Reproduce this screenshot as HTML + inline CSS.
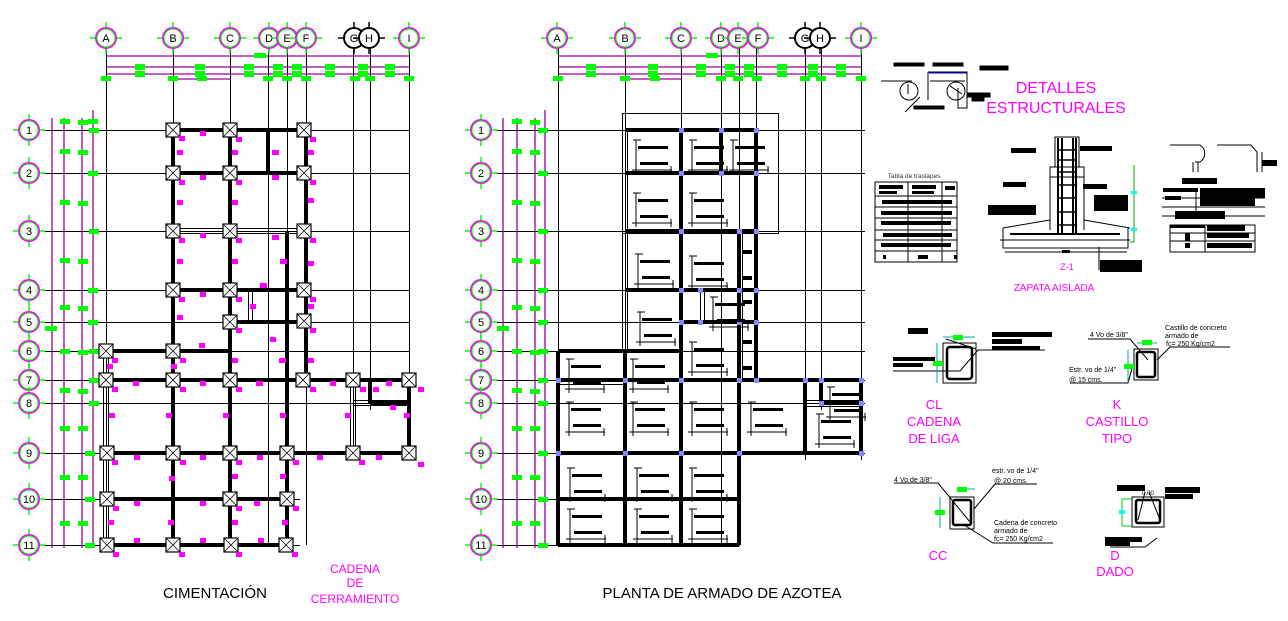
<!DOCTYPE html>
<html><head><meta charset="utf-8"><style>
html,body{margin:0;padding:0;background:#fff;}
svg{display:block;font-family:"Liberation Sans",sans-serif;}
</style></head><body>
<svg width="1288" height="621" viewBox="0 0 1288 621" xmlns="http://www.w3.org/2000/svg">
<defs>
<g id="bub"><circle r="10" fill="#fff" stroke="#f0f" stroke-width="2"/><circle r="9" fill="none" stroke="#0f0" stroke-width="1"/><path d="M-16 0h5M11 0h5M0 -16v5M0 11v5" stroke="#0f0" stroke-width="1.5"/></g>
<g id="bubk"><circle r="10" fill="#fff" stroke="#000" stroke-width="2"/><path d="M-16 0h5M11 0h5M0 -16v5M0 11v5" stroke="#000" stroke-width="1.5"/></g>
<g id="ft"><rect x="-7" y="-7" width="14" height="14" fill="#fff" stroke="#000" stroke-width="1.2"/><path d="M-7 -7L7 7M7 -7L-7 7" stroke="#000" stroke-width="0.8"/></g>
<g id="rb"><path d="M5 2h8M8 2v34M4 32h40M43 28v8" stroke="#000" stroke-width="1" fill="none"/><rect x="10" y="8" width="30" height="3" fill="#000"/><rect x="12" y="24" width="28" height="3" fill="#000"/></g>
</defs>

<!-- ============ LEFT PLAN: CIMENTACION ============ -->
<g stroke="#000" stroke-width="1" fill="none">
<path d="M106.5 48V545M173.5 48V545M230.5 48V545M268.5 48V545M287.5 48V545M306.5 48V545M353.5 48V460M370.5 48V410M409.5 48V460"/>
<path d="M45 130.5H410M45 173.5H410M45 231.5H410M45 290.5H410M45 322.5H410M45 351.5H410M45 380.5H410M45 403.5H410M45 453.5H410M45 499.5H300M45 545.5H300"/>
</g>
<g stroke="#909" stroke-width="1.3">
<path d="M106 56H409M106 67H409M106 74H409M173 79H230"/>
<path d="M52 118V548M64 118V548M82 118V548M93 110V548"/>
</g>
<g fill="#0f0">
<rect x="254" y="53" width="12" height="5"/>
<rect x="135" y="64" width="10" height="6"/><rect x="195" y="64" width="10" height="6"/><rect x="244" y="64" width="10" height="6"/><rect x="273" y="64" width="10" height="6"/><rect x="292" y="64" width="10" height="6"/><rect x="325" y="64" width="10" height="6"/><rect x="358" y="64" width="10" height="6"/><rect x="385" y="64" width="10" height="6"/>
<rect x="135" y="71" width="10" height="6"/><rect x="195" y="71" width="10" height="6"/><rect x="244" y="71" width="10" height="6"/><rect x="273" y="71" width="10" height="6"/><rect x="292" y="71" width="10" height="6"/><rect x="325" y="71" width="10" height="6"/><rect x="358" y="71" width="10" height="6"/><rect x="385" y="71" width="10" height="6"/>
<rect x="101" y="76" width="10" height="5"/><rect x="168" y="76" width="10" height="5"/><rect x="197" y="76" width="10" height="5"/><rect x="263" y="76" width="10" height="5"/><rect x="282" y="76" width="10" height="5"/><rect x="301" y="76" width="10" height="5"/><rect x="350" y="76" width="10" height="5"/><rect x="365" y="76" width="10" height="5"/><rect x="404" y="76" width="10" height="5"/>
</g>
<g fill="#0f0">
<rect x="60" y="119" width="10" height="5"/><rect x="78" y="120" width="10" height="5"/><rect x="88" y="119" width="10" height="5"/>
<rect x="60" y="149" width="10" height="5"/><rect x="78" y="150" width="10" height="5"/>
<rect x="60" y="200" width="10" height="5"/><rect x="78" y="201" width="10" height="5"/>
<rect x="60" y="258" width="10" height="5"/><rect x="78" y="259" width="10" height="5"/>
<rect x="60" y="305" width="10" height="5"/><rect x="78" y="306" width="10" height="5"/>
<rect x="45" y="326" width="12" height="5"/>
<rect x="60" y="349" width="10" height="5"/><rect x="78" y="350" width="10" height="5"/>
<rect x="60" y="388" width="10" height="5"/><rect x="78" y="389" width="10" height="5"/>
<rect x="60" y="426" width="10" height="5"/><rect x="78" y="426" width="10" height="5"/>
<rect x="60" y="475" width="10" height="5"/><rect x="78" y="475" width="10" height="5"/>
<rect x="60" y="521" width="10" height="5"/><rect x="78" y="521" width="10" height="5"/>
<rect x="89" y="128" width="10" height="5"/><rect x="88" y="171" width="10" height="5"/><rect x="89" y="229" width="10" height="5"/><rect x="88" y="288" width="10" height="5"/><rect x="88" y="320" width="10" height="5"/><rect x="89" y="349" width="10" height="5"/><rect x="89" y="378" width="10" height="5"/><rect x="89" y="401" width="10" height="5"/><rect x="85" y="451" width="10" height="5"/><rect x="85" y="497" width="10" height="5"/><rect x="85" y="543" width="10" height="5"/>
</g>
<g stroke="#000" stroke-width="4" fill="none">
<path d="M173 130V545M230 130V545M306 130V380M268 130V173M287 231V545"/>
<path d="M173 130H306M173 173H306M173 290H306M230 322H306M106 351H230M106 380H409M370 403H409M106 453H409M106 499H287M106 545H287M370 380V403M409 380V453"/>
</g>
<g stroke="#000" stroke-width="1" fill="none">
<path d="M173 228.5H306M173 233.5H306M103.5 351V545M108.5 351V545M350.5 380V453M355.5 380V453M248.5 290V322M252.5 290V322M353 400.5H409M353 405.5H409"/>
</g>
<g>
<use href="#ft" x="173" y="130"/><use href="#ft" x="230" y="130"/><use href="#ft" x="304" y="130"/>
<use href="#ft" x="173" y="173"/><use href="#ft" x="230" y="173"/><use href="#ft" x="304" y="173"/>
<use href="#ft" x="173" y="231"/><use href="#ft" x="230" y="231"/><use href="#ft" x="304" y="231"/>
<use href="#ft" x="173" y="290"/><use href="#ft" x="230" y="290"/><use href="#ft" x="304" y="290"/>
<use href="#ft" x="230" y="322"/><use href="#ft" x="304" y="321"/>
<use href="#ft" x="106" y="351"/><use href="#ft" x="173" y="351"/>
<use href="#ft" x="106" y="380"/><use href="#ft" x="173" y="380"/><use href="#ft" x="230" y="380"/><use href="#ft" x="303" y="380"/><use href="#ft" x="353" y="380"/><use href="#ft" x="409" y="380"/>
<use href="#ft" x="107" y="453"/><use href="#ft" x="173" y="453"/><use href="#ft" x="230" y="453"/><use href="#ft" x="287" y="453"/><use href="#ft" x="353" y="453"/><use href="#ft" x="409" y="453"/>
<use href="#ft" x="107" y="499"/><use href="#ft" x="230" y="499"/><use href="#ft" x="287" y="499"/>
<use href="#ft" x="107" y="545"/><use href="#ft" x="173" y="545"/><use href="#ft" x="231" y="545"/><use href="#ft" x="286" y="545"/>
</g>
<g fill="#f0f">
<rect x="179" y="136" width="6" height="5"/><rect x="200" y="131" width="6" height="5"/><rect x="236" y="137" width="6" height="5"/><rect x="310" y="137" width="6" height="5"/><rect x="177" y="150" width="6" height="5"/><rect x="232" y="150" width="6" height="5"/><rect x="272" y="150" width="7" height="5"/><rect x="308" y="150" width="6" height="5"/>
<rect x="179" y="180" width="6" height="5"/><rect x="200" y="175" width="6" height="5"/><rect x="236" y="180" width="6" height="5"/><rect x="272" y="175" width="7" height="5"/><rect x="310" y="180" width="6" height="5"/><rect x="177" y="200" width="6" height="5"/><rect x="232" y="200" width="6" height="5"/><rect x="308" y="198" width="6" height="5"/>
<rect x="179" y="238" width="6" height="5"/><rect x="200" y="233" width="6" height="5"/><rect x="236" y="238" width="6" height="5"/><rect x="272" y="235" width="7" height="5"/><rect x="310" y="238" width="6" height="5"/><rect x="177" y="259" width="6" height="5"/><rect x="232" y="259" width="6" height="5"/><rect x="280" y="259" width="7" height="5"/><rect x="308" y="261" width="6" height="5"/>
<rect x="179" y="297" width="6" height="5"/><rect x="200" y="292" width="6" height="5"/><rect x="236" y="297" width="6" height="5"/><rect x="260" y="283" width="7" height="5"/><rect x="310" y="297" width="6" height="5"/><rect x="177" y="315" width="6" height="5"/><rect x="250" y="304" width="6" height="5"/><rect x="308" y="304" width="6" height="5"/>
<rect x="236" y="328" width="6" height="5"/><rect x="310" y="328" width="6" height="5"/><rect x="199" y="343" width="6" height="5"/><rect x="270" y="337" width="6" height="5"/>
<rect x="112" y="358" width="6" height="5"/><rect x="107" y="364" width="6" height="5"/><rect x="180" y="358" width="6" height="5"/><rect x="171" y="364" width="6" height="5"/><rect x="232" y="358" width="6" height="5"/><rect x="279" y="358" width="7" height="5"/><rect x="308" y="358" width="6" height="5"/>
<rect x="112" y="387" width="6" height="5"/><rect x="133" y="381" width="6" height="5"/><rect x="180" y="387" width="6" height="5"/><rect x="200" y="381" width="6" height="5"/><rect x="236" y="387" width="6" height="5"/><rect x="256" y="381" width="7" height="5"/><rect x="310" y="387" width="6" height="5"/><rect x="330" y="381" width="6" height="5"/><rect x="360" y="387" width="6" height="5"/><rect x="373" y="387" width="6" height="5"/><rect x="386" y="381" width="6" height="5"/><rect x="418" y="387" width="6" height="5"/><rect x="390" y="405" width="6" height="5"/>
<rect x="109" y="413" width="6" height="5"/><rect x="166" y="413" width="6" height="5"/><rect x="223" y="413" width="6" height="5"/><rect x="280" y="413" width="6" height="5"/><rect x="345" y="413" width="6" height="5"/><rect x="404" y="413" width="6" height="5"/>
<rect x="112" y="460" width="6" height="5"/><rect x="134" y="455" width="6" height="5"/><rect x="180" y="460" width="6" height="5"/><rect x="200" y="455" width="6" height="5"/><rect x="236" y="460" width="6" height="5"/><rect x="257" y="455" width="6" height="5"/><rect x="293" y="460" width="6" height="5"/><rect x="317" y="455" width="6" height="5"/><rect x="359" y="460" width="6" height="5"/><rect x="376" y="455" width="6" height="5"/><rect x="418" y="462" width="6" height="5"/>
<rect x="169" y="476" width="6" height="5"/><rect x="232" y="474" width="6" height="5"/><rect x="280" y="474" width="6" height="5"/>
<rect x="113" y="506" width="6" height="5"/><rect x="134" y="501" width="6" height="5"/><rect x="200" y="501" width="6" height="5"/><rect x="236" y="506" width="6" height="5"/><rect x="254" y="501" width="6" height="5"/><rect x="293" y="506" width="6" height="5"/>
<rect x="108" y="520" width="6" height="5"/><rect x="168" y="520" width="6" height="5"/><rect x="232" y="520" width="6" height="5"/><rect x="282" y="520" width="6" height="5"/>
<rect x="134" y="538" width="6" height="5"/><rect x="200" y="538" width="6" height="5"/><rect x="258" y="538" width="6" height="5"/>
<rect x="113" y="552" width="6" height="5"/><rect x="179" y="552" width="6" height="5"/><rect x="236" y="552" width="6" height="5"/><rect x="292" y="552" width="6" height="5"/>
</g>
<g font-size="11" text-anchor="middle">
<use href="#bub" x="106" y="38"/><text x="106" y="42">A</text>
<use href="#bub" x="173" y="38"/><text x="173" y="42">B</text>
<use href="#bub" x="230" y="38"/><text x="230" y="42">C</text>
<use href="#bub" x="269" y="38"/><text x="269" y="42">D</text>
<use href="#bub" x="287" y="38"/><text x="287" y="42">E</text>
<use href="#bub" x="306" y="38"/><text x="306" y="42">F</text>
<use href="#bubk" x="354" y="38"/><use href="#bubk" x="369" y="38"/><text x="354" y="42">G</text><text x="369" y="42">H</text>
<use href="#bub" x="409" y="38"/><text x="409" y="42">I</text>
<use href="#bub" x="29" y="130"/><text x="29" y="134">1</text>
<use href="#bub" x="29" y="173"/><text x="29" y="177">2</text>
<use href="#bub" x="29" y="231"/><text x="29" y="235">3</text>
<use href="#bub" x="29" y="290"/><text x="29" y="294">4</text>
<use href="#bub" x="29" y="322"/><text x="29" y="326">5</text>
<use href="#bub" x="29" y="351"/><text x="29" y="355">6</text>
<use href="#bub" x="29" y="380"/><text x="29" y="384">7</text>
<use href="#bub" x="29" y="403"/><text x="29" y="407">8</text>
<use href="#bub" x="29" y="453"/><text x="29" y="457">9</text>
<use href="#bub" x="29" y="499"/><text x="29" y="503">10</text>
<use href="#bub" x="29" y="545"/><text x="29" y="549">11</text>
</g>
<text x="215" y="598" font-size="15" text-anchor="middle" fill="#000">CIMENTACIÓN</text>
<g font-size="12" fill="#f0f" text-anchor="middle"><text x="355" y="573">CADENA</text><text x="355" y="587">DE</text><text x="355" y="603">CERRAMIENTO</text></g>

<!-- ============ RIGHT PLAN: AZOTEA ============ -->
<g stroke="#000" stroke-width="1" fill="none">
<path d="M558.5 48V545M625.5 48V545M681.5 48V545M721.5 48V545M739.5 48V545M756.5 48V380M805.5 48V460M821.5 48V410M861.5 48V460"/>
<path d="M497 130.5H865M497 173.5H865M497 231.5H865M497 290.5H865M497 322.5H865M497 351.5H865M497 380.5H865M497 403.5H865M497 453.5H865M497 499.5H740M497 545.5H740"/>
<rect x="622.5" y="113.5" width="156" height="120"/>
</g>
<g stroke="#909" stroke-width="1.3">
<path d="M558 56H861M558 67H861M558 74H861M625 79H681"/>
<path d="M503 118V548M517 118V548M535 118V548M545 110V548"/>
</g>
<g fill="#0f0">
<rect x="706" y="53" width="12" height="5"/>
<rect x="586" y="64" width="10" height="6"/><rect x="648" y="64" width="10" height="6"/><rect x="696" y="64" width="10" height="6"/><rect x="725" y="64" width="10" height="6"/><rect x="744" y="64" width="10" height="6"/><rect x="777" y="64" width="10" height="6"/><rect x="808" y="64" width="10" height="6"/><rect x="836" y="64" width="10" height="6"/>
<rect x="586" y="71" width="10" height="6"/><rect x="648" y="71" width="10" height="6"/><rect x="696" y="71" width="10" height="6"/><rect x="725" y="71" width="10" height="6"/><rect x="744" y="71" width="10" height="6"/><rect x="777" y="71" width="10" height="6"/><rect x="808" y="71" width="10" height="6"/><rect x="836" y="71" width="10" height="6"/>
<rect x="553" y="76" width="10" height="5"/><rect x="620" y="76" width="10" height="5"/><rect x="650" y="76" width="10" height="5"/><rect x="716" y="76" width="10" height="5"/><rect x="733" y="76" width="10" height="5"/><rect x="752" y="76" width="10" height="5"/><rect x="800" y="76" width="10" height="5"/><rect x="816" y="76" width="10" height="5"/><rect x="856" y="76" width="10" height="5"/>
<rect x="512" y="119" width="10" height="5"/><rect x="530" y="120" width="10" height="5"/>
<rect x="512" y="149" width="10" height="5"/><rect x="530" y="150" width="10" height="5"/>
<rect x="512" y="200" width="10" height="5"/><rect x="530" y="201" width="10" height="5"/>
<rect x="512" y="258" width="10" height="5"/><rect x="530" y="259" width="10" height="5"/>
<rect x="512" y="305" width="10" height="5"/><rect x="530" y="306" width="10" height="5"/>
<rect x="497" y="326" width="12" height="5"/>
<rect x="512" y="349" width="10" height="5"/><rect x="530" y="350" width="10" height="5"/>
<rect x="512" y="388" width="10" height="5"/><rect x="530" y="389" width="10" height="5"/>
<rect x="512" y="426" width="10" height="5"/><rect x="530" y="426" width="10" height="5"/>
<rect x="512" y="475" width="10" height="5"/><rect x="530" y="475" width="10" height="5"/>
<rect x="512" y="521" width="10" height="5"/><rect x="530" y="521" width="10" height="5"/>
<rect x="538" y="128" width="10" height="5"/><rect x="538" y="171" width="10" height="5"/><rect x="538" y="229" width="10" height="5"/><rect x="538" y="288" width="10" height="5"/><rect x="538" y="320" width="10" height="5"/><rect x="538" y="349" width="10" height="5"/><rect x="538" y="378" width="10" height="5"/><rect x="538" y="401" width="10" height="5"/><rect x="538" y="451" width="10" height="5"/><rect x="538" y="497" width="10" height="5"/><rect x="538" y="543" width="10" height="5"/>
</g>
<g stroke="#000" stroke-width="4" fill="none">
<path d="M681 130V545M721 130V173M739 231V545M756 130V380M625 351V545M558 351V545M805 380V453M821 380V403M861 380V453"/>
<path d="M625 130H756M625 173H756M625 231H756M625 290H756M681 322H756M558 351H681M558 380H861M821 403H861M558 453H861M558 499H739M558 545H739"/>
</g>
<g stroke="#000" stroke-width="1" fill="none">
<path d="M622.5 130V351M627.5 130V351M700.5 290V322M704.5 290V322M742.5 231V380M805 400.5H861M805 406.5H861M558 384.5H625"/>
</g>
<g fill="#88f">
<rect x="679" y="128" width="5" height="5"/><rect x="719" y="128" width="5" height="5"/><rect x="754" y="128" width="5" height="5"/><rect x="679" y="171" width="5" height="5"/><rect x="719" y="171" width="5" height="5"/><rect x="754" y="171" width="5" height="5"/>
<rect x="679" y="229" width="5" height="5"/><rect x="737" y="229" width="5" height="5"/><rect x="754" y="229" width="5" height="5"/><rect x="679" y="288" width="5" height="5"/><rect x="698" y="288" width="5" height="5"/><rect x="737" y="288" width="5" height="5"/><rect x="754" y="288" width="5" height="5"/>
<rect x="679" y="320" width="5" height="5"/><rect x="698" y="320" width="5" height="5"/><rect x="737" y="320" width="5" height="5"/><rect x="754" y="320" width="5" height="5"/>
<rect x="556" y="378" width="5" height="5"/><rect x="623" y="378" width="5" height="5"/><rect x="679" y="378" width="5" height="5"/><rect x="737" y="378" width="5" height="5"/><rect x="754" y="378" width="5" height="5"/><rect x="803" y="378" width="5" height="5"/><rect x="819" y="378" width="5" height="5"/><rect x="859" y="378" width="5" height="5"/><rect x="819" y="401" width="5" height="5"/><rect x="859" y="401" width="5" height="5"/>
<rect x="556" y="451" width="5" height="5"/><rect x="623" y="451" width="5" height="5"/><rect x="679" y="451" width="5" height="5"/><rect x="737" y="451" width="5" height="5"/><rect x="859" y="451" width="5" height="5"/>
</g>
<g>
<use href="#rb" x="628" y="138"/><use href="#rb" x="684" y="138"/><use href="#rb" x="725" y="138"/>
<use href="#rb" x="628" y="191"/><use href="#rb" x="684" y="191"/>
<use href="#rb" x="630" y="252"/><use href="#rb" x="684" y="254"/>
<use href="#rb" x="632" y="310"/><use href="#rb" x="705" y="295"/><use href="#rb" x="684" y="340"/>
<use href="#rb" x="561" y="357"/><use href="#rb" x="625" y="357"/>
<use href="#rb" x="561" y="400"/><use href="#rb" x="625" y="400"/><use href="#rb" x="684" y="400"/><use href="#rb" x="743" y="400"/><use href="#rb" x="811" y="412"/><use href="#rb" x="822" y="385"/>
<use href="#rb" x="562" y="466"/><use href="#rb" x="629" y="466"/><use href="#rb" x="684" y="466"/>
<use href="#rb" x="562" y="507"/><use href="#rb" x="629" y="507"/><use href="#rb" x="684" y="507"/>
<rect x="742" y="250" width="10" height="4" fill="#000"/><rect x="742" y="276" width="10" height="4" fill="#000"/><rect x="742" y="300" width="10" height="4" fill="#000"/><rect x="742" y="340" width="10" height="4" fill="#000"/><rect x="742" y="366" width="10" height="4" fill="#000"/>
</g>
<g font-size="11" text-anchor="middle">
<use href="#bub" x="557" y="38"/><text x="557" y="42">A</text>
<use href="#bub" x="625" y="38"/><text x="625" y="42">B</text>
<use href="#bub" x="681" y="38"/><text x="681" y="42">C</text>
<use href="#bub" x="721" y="38"/><text x="721" y="42">D</text>
<use href="#bub" x="738" y="38"/><text x="738" y="42">E</text>
<use href="#bub" x="758" y="38"/><text x="758" y="42">F</text>
<use href="#bubk" x="805" y="38"/><use href="#bubk" x="820" y="38"/><text x="805" y="42">G</text><text x="820" y="42">H</text>
<use href="#bub" x="861" y="38"/><text x="861" y="42">I</text>
<use href="#bub" x="481" y="130"/><text x="481" y="134">1</text>
<use href="#bub" x="481" y="173"/><text x="481" y="177">2</text>
<use href="#bub" x="481" y="231"/><text x="481" y="235">3</text>
<use href="#bub" x="481" y="290"/><text x="481" y="294">4</text>
<use href="#bub" x="481" y="322"/><text x="481" y="326">5</text>
<use href="#bub" x="481" y="351"/><text x="481" y="355">6</text>
<use href="#bub" x="481" y="380"/><text x="481" y="384">7</text>
<use href="#bub" x="481" y="403"/><text x="481" y="407">8</text>
<use href="#bub" x="481" y="453"/><text x="481" y="457">9</text>
<use href="#bub" x="481" y="499"/><text x="481" y="503">10</text>
<use href="#bub" x="481" y="545"/><text x="481" y="549">11</text>
</g>
<text x="722" y="598" font-size="15" text-anchor="middle" fill="#000">PLANTA DE ARMADO DE AZOTEA</text>

<!-- ============ DETAILS ============ -->
<g font-size="16" fill="#f0f" text-anchor="middle"><text x="1056" y="93">DETALLES</text><text x="1056" y="113">ESTRUCTURALES</text></g>
<g stroke="#000" stroke-width="1" fill="none">
<rect x="894" y="63" width="30" height="3" fill="#000"/><rect x="933" y="63" width="30" height="3" fill="#000"/><rect x="980" y="66" width="28" height="4" fill="#000"/>
<path d="M881 81H912M930 81H965"/><circle cx="909" cy="91" r="9"/><circle cx="956" cy="91" r="9"/>
<path d="M908 84v10M950 86l12 8M905 112l15-15M928 72V100M928 72H967V108H958V88"/>
<path d="M929 73H967" stroke="#00f"/>
<rect x="968" y="93" width="22" height="4" fill="#000"/><rect x="972" y="97" width="12" height="4" fill="#000"/><rect x="914" y="106" width="30" height="3" fill="#000"/>
</g>
<text x="914" y="178" font-size="6.5" text-anchor="middle" fill="#333">Tabla de traslapes</text>
<g stroke="#000" stroke-width="1" fill="none">
<rect x="875" y="182" width="82" height="80"/><path d="M875 196H957M875 207H957M875 218H957M875 230H957M875 240H957M875 251H957M908 182V262M942 182V262"/>
</g>
<g fill="#000"><rect x="879" y="185" width="24" height="4"/><rect x="912" y="185" width="24" height="4"/><rect x="945" y="186" width="10" height="4"/><rect x="879" y="191" width="18" height="3"/><rect x="912" y="191" width="22" height="3"/>
<rect x="882" y="200" width="70" height="4"/><rect x="881" y="211" width="71" height="4"/><rect x="881" y="221" width="70" height="4"/><rect x="883" y="233" width="69" height="4"/><rect x="881" y="243" width="70" height="4"/><rect x="883" y="255" width="3" height="4"/><rect x="918" y="255" width="10" height="4"/><rect x="954" y="255" width="3" height="4"/></g>
<g stroke="#000" stroke-width="1" fill="none">
<rect x="1055" y="137" width="24" height="30"/><rect x="1050" y="167" width="34" height="10"/>
<path d="M1050 177V230M1084 177V230M1003 228L1050 220M1084 220L1130 228M1003 228V248H1128V228M1000 240H1130M1005 252H1127"/>
<path d="M1058 138V235M1062 138V235M1073 138V235M1076 138V235M1010 234H1120" stroke-width="2"/>
<path d="M1058 150h18M1058 160h18M1058 172h18M1058 185h18M1058 198h18M1058 212h18M1058 225h18" stroke-width="1.5"/>
<path d="M1134 165V242M1130 242H1134" stroke="#0a0"/>
<path d="M1099 247V270"/>
</g>
<g fill="#000"><rect x="1011" y="148" width="25" height="5"/><rect x="1080" y="146" width="32" height="5"/><rect x="1003" y="182" width="23" height="5"/><rect x="1083" y="184" width="24" height="5"/><rect x="988" y="205" width="48" height="10"/><rect x="1094" y="195" width="34" height="16"/><rect x="1100" y="260" width="42" height="12"/><rect x="1062" y="250" width="8" height="3"/></g>
<g fill="#0ff"><rect x="1131" y="191" width="6" height="3"/><rect x="1131" y="228" width="6" height="3"/></g>
<text x="1067" y="270" font-size="9" fill="#f0f" text-anchor="middle">Z-1</text>
<text x="1054" y="291" font-size="10" fill="#f0f" text-anchor="middle">ZAPATA AISLADA</text>
<g stroke="#000" stroke-width="1" fill="none">
<path d="M1170 145H1200A10 10 0 0 1 1200 162H1195M1193 162V172M1198 162V172M1217 145H1251L1257 152V172M1262 152V172"/>
</g>
<g fill="#000"><rect x="1262" y="160" width="15" height="6"/><rect x="1182" y="178" width="35" height="6"/><rect x="1163" y="188" width="35" height="4"/><rect x="1200" y="188" width="65" height="10"/><rect x="1165" y="196" width="16" height="4"/><rect x="1200" y="198" width="55" height="8"/><rect x="1175" y="211" width="50" height="8"/><rect x="1170" y="225" width="35" height="3"/><rect x="1207" y="225" width="38" height="6"/><rect x="1185" y="233" width="5" height="8"/><rect x="1207" y="233" width="42" height="5"/><rect x="1185" y="243" width="5" height="5"/><rect x="1207" y="243" width="45" height="5"/></g>
<g stroke="#000" stroke-width="1" fill="none"><path d="M1162 198H1265M1162 207H1265M1162 216H1265M1196 188V216M1170 225H1255V252H1170ZM1170 233H1255M1170 241H1255M1205 225V252"/></g>
<!-- CL -->
<g stroke="#000" stroke-width="1" fill="none"><rect x="943" y="343" width="33" height="40"/><rect x="947" y="347" width="25" height="32" rx="3" stroke-width="2.5"/><path d="M893 371H960L978 350H1045M946 339l30 10"/></g>
<path d="M937 343V383M943 337H975" stroke="#0aa" fill="none"/>
<rect x="953" y="335" width="10" height="5" fill="#0f0"/><rect x="933" y="361" width="10" height="5" fill="#0f0"/>
<g fill="#000"><rect x="908" y="328" width="20" height="6"/><rect x="992" y="332" width="60" height="5"/><rect x="992" y="339" width="30" height="5"/><rect x="992" y="346" width="48" height="4"/><rect x="893" y="357" width="42" height="4"/><rect x="893" y="363" width="30" height="4"/></g>
<g font-size="13" fill="#f0f" text-anchor="middle"><text x="934" y="409">CL</text><text x="934" y="426">CADENA</text><text x="934" y="443">DE LIGA</text></g>
<!-- K -->
<g stroke="#000" stroke-width="1" fill="none"><rect x="1134" y="349" width="24" height="31"/><rect x="1137" y="352" width="18" height="25" rx="2" stroke-width="2.5"/><path d="M1088 339H1130L1148 360M1157 360L1170 347H1230M1070 383H1128L1133 365"/></g>
<path d="M1128 350V382M1137 343H1157" stroke="#0aa" fill="none"/>
<rect x="1142" y="340" width="10" height="5" fill="#0f0"/><rect x="1124" y="364" width="10" height="5" fill="#0f0"/>
<g font-size="7" fill="#000"><text x="1090" y="337">4 Vo de 3/8"</text><text x="1165" y="330">Castillo de concreto</text><text x="1165" y="338">armado de</text><text x="1166" y="346">fc= 250 Kg/cm2</text><text x="1069" y="372">Estr. vo de 1/4"</text><text x="1069" y="382">@ 15 cms.</text></g>
<g font-size="13" fill="#f0f" text-anchor="middle"><text x="1117" y="409">K</text><text x="1117" y="426">CASTILLO</text><text x="1117" y="443">TIPO</text></g>
<!-- CC -->
<g stroke="#000" stroke-width="1" fill="none"><rect x="950" y="497" width="24" height="32"/><rect x="953" y="500" width="18" height="25" rx="2" stroke-width="2.5"/><path d="M894 483H938L970 522M974 509L995 484H1037M964 525L993 543H1053"/></g>
<path d="M940 497V528M958 489H975" stroke="#0aa" fill="none"/>
<rect x="957" y="487" width="10" height="5" fill="#0f0"/><rect x="935" y="510" width="10" height="5" fill="#0f0"/>
<g font-size="7" fill="#000"><text x="894" y="482">4 Vo de 3/8"</text><text x="992" y="473">estr. vo de 1/4"</text><text x="994" y="483">@ 20 cms.</text><text x="994" y="525">Cadena de concreto</text><text x="994" y="533">armado de</text><text x="994" y="541">fc= 250 Kg/cm2</text></g>
<text x="938" y="560" font-size="13" fill="#f0f" text-anchor="middle">CC</text>
<!-- D -->
<g stroke="#000" stroke-width="1" fill="none"><rect x="1132" y="497" width="32" height="30"/><rect x="1136" y="500" width="24" height="23" rx="2" stroke-width="2.5"/><path d="M1145 492L1138 520M1149 492L1160 520M1157 538L1145 547H1110"/></g>
<path d="M1132 499H1122V526H1132" stroke="#0c0" fill="none"/><rect x="1119" y="510" width="6" height="4" fill="#0ff"/>
<text x="1148" y="495" font-size="6" text-anchor="middle">0.00</text>
<g fill="#000"><rect x="1117" y="485" width="28" height="6"/><rect x="1165" y="487" width="35" height="6"/><rect x="1165" y="494" width="28" height="5"/><rect x="1105" y="537" width="37" height="5"/><rect x="1105" y="542" width="25" height="4"/></g>
<g font-size="13" fill="#f0f" text-anchor="middle"><text x="1115" y="560">D</text><text x="1115" y="576">DADO</text></g>
</svg>
</body></html>
